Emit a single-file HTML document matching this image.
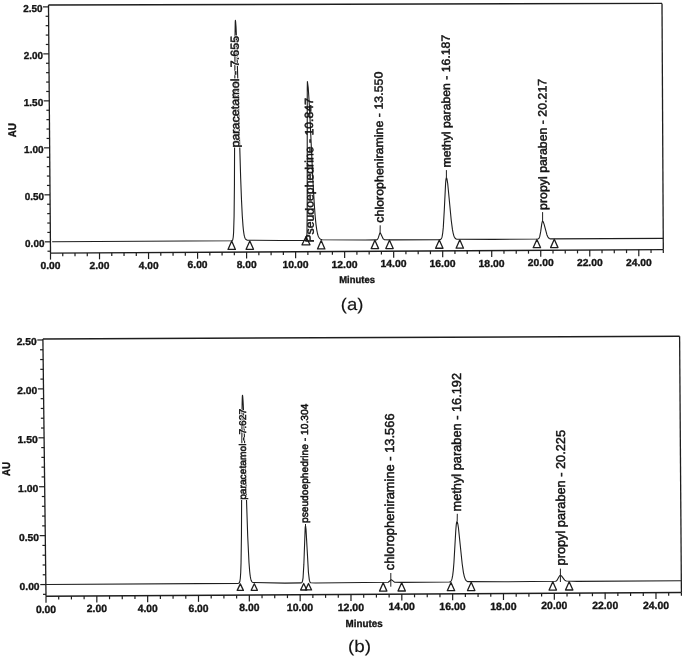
<!DOCTYPE html>
<html><head><meta charset="utf-8"><style>
html,body{margin:0;padding:0;background:#fff;width:685px;height:658px;overflow:hidden}
svg{display:block;filter:grayscale(1)}
text{font-family:"Liberation Sans",sans-serif;font-kerning:none;text-rendering:geometricPrecision}
text.s{stroke:#141414;stroke-width:0.35px}
text.t{stroke:#141414;stroke-width:0.15px}
text.v{stroke:#141414;stroke-width:0.5px}
text.h{stroke:#fff;stroke-width:1.6px;stroke-linejoin:round}
</style></head><body>
<svg width="685" height="658" viewBox="0 0 685 658">
<rect width="685" height="658" fill="#fff"/>
<g font-family="Liberation Sans, sans-serif" style="font-kerning:none">
<line x1="48.5" y1="5" x2="662" y2="3.4" stroke="#1e1e1e" stroke-width="1.45"/>
<line x1="662" y1="3.4" x2="663.3" y2="249.6" stroke="#1e1e1e" stroke-width="1.3"/>
<line x1="50.5" y1="253.1" x2="663.3" y2="249.6" stroke="#1e1e1e" stroke-width="1.45"/>
<line x1="48.5" y1="5" x2="50.5" y2="253.1" stroke="#1e1e1e" stroke-width="1.3"/>
<line x1="47.48" y1="251.22" x2="50.48" y2="251.22" stroke="#1e1e1e" stroke-width="1.2"/>
<line x1="44.81" y1="241.82" x2="50.41" y2="241.82" stroke="#1e1e1e" stroke-width="1.2"/>
<text class="s" x="25.12" y="246.77" font-size="10.03" font-weight="bold" textLength="19.3" lengthAdjust="spacingAndGlyphs" fill="#141414">0.00</text>
<line x1="47.33" y1="232.43" x2="50.33" y2="232.43" stroke="#1e1e1e" stroke-width="1.2"/>
<line x1="47.26" y1="223.03" x2="50.26" y2="223.03" stroke="#1e1e1e" stroke-width="1.2"/>
<line x1="47.18" y1="213.63" x2="50.18" y2="213.63" stroke="#1e1e1e" stroke-width="1.2"/>
<line x1="47.11" y1="204.23" x2="50.11" y2="204.23" stroke="#1e1e1e" stroke-width="1.2"/>
<line x1="44.43" y1="194.83" x2="50.03" y2="194.83" stroke="#1e1e1e" stroke-width="1.2"/>
<text class="s" x="24.74" y="199.79" font-size="10.03" font-weight="bold" textLength="19.3" lengthAdjust="spacingAndGlyphs" fill="#141414">0.50</text>
<line x1="46.95" y1="185.44" x2="49.95" y2="185.44" stroke="#1e1e1e" stroke-width="1.2"/>
<line x1="46.88" y1="176.04" x2="49.88" y2="176.04" stroke="#1e1e1e" stroke-width="1.2"/>
<line x1="46.8" y1="166.64" x2="49.8" y2="166.64" stroke="#1e1e1e" stroke-width="1.2"/>
<line x1="46.73" y1="157.24" x2="49.73" y2="157.24" stroke="#1e1e1e" stroke-width="1.2"/>
<line x1="44.05" y1="147.85" x2="49.65" y2="147.85" stroke="#1e1e1e" stroke-width="1.2"/>
<text class="s" x="24.12" y="152.8" font-size="10.03" font-weight="bold" textLength="19.54" lengthAdjust="spacingAndGlyphs" fill="#141414">1.00</text>
<line x1="46.58" y1="138.45" x2="49.58" y2="138.45" stroke="#1e1e1e" stroke-width="1.2"/>
<line x1="46.5" y1="129.05" x2="49.5" y2="129.05" stroke="#1e1e1e" stroke-width="1.2"/>
<line x1="46.42" y1="119.65" x2="49.42" y2="119.65" stroke="#1e1e1e" stroke-width="1.2"/>
<line x1="46.35" y1="110.25" x2="49.35" y2="110.25" stroke="#1e1e1e" stroke-width="1.2"/>
<line x1="43.67" y1="100.86" x2="49.27" y2="100.86" stroke="#1e1e1e" stroke-width="1.2"/>
<text class="s" x="23.74" y="105.81" font-size="10.03" font-weight="bold" textLength="19.54" lengthAdjust="spacingAndGlyphs" fill="#141414">1.50</text>
<line x1="46.2" y1="91.46" x2="49.2" y2="91.46" stroke="#1e1e1e" stroke-width="1.2"/>
<line x1="46.12" y1="82.06" x2="49.12" y2="82.06" stroke="#1e1e1e" stroke-width="1.2"/>
<line x1="46.05" y1="72.66" x2="49.05" y2="72.66" stroke="#1e1e1e" stroke-width="1.2"/>
<line x1="45.97" y1="63.27" x2="48.97" y2="63.27" stroke="#1e1e1e" stroke-width="1.2"/>
<line x1="43.29" y1="53.87" x2="48.89" y2="53.87" stroke="#1e1e1e" stroke-width="1.2"/>
<text class="s" x="23.65" y="58.82" font-size="10.03" font-weight="bold" textLength="19.25" lengthAdjust="spacingAndGlyphs" fill="#141414">2.00</text>
<line x1="45.82" y1="44.47" x2="48.82" y2="44.47" stroke="#1e1e1e" stroke-width="1.2"/>
<line x1="45.74" y1="35.07" x2="48.74" y2="35.07" stroke="#1e1e1e" stroke-width="1.2"/>
<line x1="45.67" y1="25.67" x2="48.67" y2="25.67" stroke="#1e1e1e" stroke-width="1.2"/>
<line x1="45.59" y1="16.28" x2="48.59" y2="16.28" stroke="#1e1e1e" stroke-width="1.2"/>
<line x1="42.92" y1="6.88" x2="48.52" y2="6.88" stroke="#1e1e1e" stroke-width="1.2"/>
<text class="s" x="23.27" y="11.83" font-size="10.03" font-weight="bold" textLength="19.25" lengthAdjust="spacingAndGlyphs" fill="#141414">2.50</text>
<line x1="50.5" y1="253.1" x2="50.5" y2="259.6" stroke="#1e1e1e" stroke-width="1.2"/>
<text class="s" x="40.49" y="269.2" font-size="10.17" font-weight="bold" textLength="20.03" lengthAdjust="spacingAndGlyphs" fill="#141414">0.00</text>
<line x1="62.76" y1="253.03" x2="62.76" y2="256.33" stroke="#1e1e1e" stroke-width="1.2"/>
<line x1="75.01" y1="252.96" x2="75.01" y2="256.26" stroke="#1e1e1e" stroke-width="1.2"/>
<line x1="87.27" y1="252.89" x2="87.27" y2="256.19" stroke="#1e1e1e" stroke-width="1.2"/>
<line x1="99.52" y1="252.82" x2="99.52" y2="259.32" stroke="#1e1e1e" stroke-width="1.2"/>
<text class="s" x="89.57" y="268.92" font-size="10.17" font-weight="bold" textLength="19.98" lengthAdjust="spacingAndGlyphs" fill="#141414">2.00</text>
<line x1="111.78" y1="252.75" x2="111.78" y2="256.05" stroke="#1e1e1e" stroke-width="1.2"/>
<line x1="124.04" y1="252.68" x2="124.04" y2="255.98" stroke="#1e1e1e" stroke-width="1.2"/>
<line x1="136.29" y1="252.61" x2="136.29" y2="255.91" stroke="#1e1e1e" stroke-width="1.2"/>
<line x1="148.55" y1="252.54" x2="148.55" y2="259.04" stroke="#1e1e1e" stroke-width="1.2"/>
<text class="s" x="138.79" y="268.64" font-size="10.17" font-weight="bold" textLength="19.77" lengthAdjust="spacingAndGlyphs" fill="#141414">4.00</text>
<line x1="160.8" y1="252.47" x2="160.8" y2="255.77" stroke="#1e1e1e" stroke-width="1.2"/>
<line x1="173.06" y1="252.4" x2="173.06" y2="255.7" stroke="#1e1e1e" stroke-width="1.2"/>
<line x1="185.32" y1="252.33" x2="185.32" y2="255.63" stroke="#1e1e1e" stroke-width="1.2"/>
<line x1="197.57" y1="252.26" x2="197.57" y2="258.76" stroke="#1e1e1e" stroke-width="1.2"/>
<text class="s" x="187.6" y="268.36" font-size="10.17" font-weight="bold" textLength="20" lengthAdjust="spacingAndGlyphs" fill="#141414">6.00</text>
<line x1="209.83" y1="252.19" x2="209.83" y2="255.49" stroke="#1e1e1e" stroke-width="1.2"/>
<line x1="222.08" y1="252.12" x2="222.08" y2="255.42" stroke="#1e1e1e" stroke-width="1.2"/>
<line x1="234.34" y1="252.05" x2="234.34" y2="255.35" stroke="#1e1e1e" stroke-width="1.2"/>
<line x1="246.6" y1="251.98" x2="246.6" y2="258.48" stroke="#1e1e1e" stroke-width="1.2"/>
<text class="s" x="236.67" y="268.08" font-size="10.17" font-weight="bold" textLength="19.95" lengthAdjust="spacingAndGlyphs" fill="#141414">8.00</text>
<line x1="258.85" y1="251.91" x2="258.85" y2="255.21" stroke="#1e1e1e" stroke-width="1.2"/>
<line x1="271.11" y1="251.84" x2="271.11" y2="255.14" stroke="#1e1e1e" stroke-width="1.2"/>
<line x1="283.36" y1="251.77" x2="283.36" y2="255.07" stroke="#1e1e1e" stroke-width="1.2"/>
<line x1="295.62" y1="251.7" x2="295.62" y2="258.2" stroke="#1e1e1e" stroke-width="1.2"/>
<text class="s" x="282.46" y="267.8" font-size="10.17" font-weight="bold" textLength="26.08" lengthAdjust="spacingAndGlyphs" fill="#141414">10.00</text>
<line x1="307.88" y1="251.63" x2="307.88" y2="254.93" stroke="#1e1e1e" stroke-width="1.2"/>
<line x1="320.13" y1="251.56" x2="320.13" y2="254.86" stroke="#1e1e1e" stroke-width="1.2"/>
<line x1="332.39" y1="251.49" x2="332.39" y2="254.79" stroke="#1e1e1e" stroke-width="1.2"/>
<line x1="344.64" y1="251.42" x2="344.64" y2="257.92" stroke="#1e1e1e" stroke-width="1.2"/>
<text class="s" x="331.49" y="267.52" font-size="10.17" font-weight="bold" textLength="26.08" lengthAdjust="spacingAndGlyphs" fill="#141414">12.00</text>
<line x1="356.9" y1="251.35" x2="356.9" y2="254.65" stroke="#1e1e1e" stroke-width="1.2"/>
<line x1="369.16" y1="251.28" x2="369.16" y2="254.58" stroke="#1e1e1e" stroke-width="1.2"/>
<line x1="381.41" y1="251.21" x2="381.41" y2="254.51" stroke="#1e1e1e" stroke-width="1.2"/>
<line x1="393.67" y1="251.14" x2="393.67" y2="257.64" stroke="#1e1e1e" stroke-width="1.2"/>
<text class="s" x="380.51" y="267.24" font-size="10.17" font-weight="bold" textLength="26.08" lengthAdjust="spacingAndGlyphs" fill="#141414">14.00</text>
<line x1="405.92" y1="251.07" x2="405.92" y2="254.37" stroke="#1e1e1e" stroke-width="1.2"/>
<line x1="418.18" y1="251" x2="418.18" y2="254.3" stroke="#1e1e1e" stroke-width="1.2"/>
<line x1="430.44" y1="250.93" x2="430.44" y2="254.23" stroke="#1e1e1e" stroke-width="1.2"/>
<line x1="442.69" y1="250.86" x2="442.69" y2="257.36" stroke="#1e1e1e" stroke-width="1.2"/>
<text class="s" x="429.54" y="266.96" font-size="10.17" font-weight="bold" textLength="26.08" lengthAdjust="spacingAndGlyphs" fill="#141414">16.00</text>
<line x1="454.95" y1="250.79" x2="454.95" y2="254.09" stroke="#1e1e1e" stroke-width="1.2"/>
<line x1="467.2" y1="250.72" x2="467.2" y2="254.02" stroke="#1e1e1e" stroke-width="1.2"/>
<line x1="479.46" y1="250.65" x2="479.46" y2="253.95" stroke="#1e1e1e" stroke-width="1.2"/>
<line x1="491.72" y1="250.58" x2="491.72" y2="257.08" stroke="#1e1e1e" stroke-width="1.2"/>
<text class="s" x="478.56" y="266.68" font-size="10.17" font-weight="bold" textLength="26.08" lengthAdjust="spacingAndGlyphs" fill="#141414">18.00</text>
<line x1="503.97" y1="250.51" x2="503.97" y2="253.81" stroke="#1e1e1e" stroke-width="1.2"/>
<line x1="516.23" y1="250.44" x2="516.23" y2="253.74" stroke="#1e1e1e" stroke-width="1.2"/>
<line x1="528.48" y1="250.37" x2="528.48" y2="253.67" stroke="#1e1e1e" stroke-width="1.2"/>
<line x1="540.74" y1="250.3" x2="540.74" y2="256.8" stroke="#1e1e1e" stroke-width="1.2"/>
<text class="s" x="527.88" y="266.4" font-size="10.17" font-weight="bold" textLength="25.78" lengthAdjust="spacingAndGlyphs" fill="#141414">20.00</text>
<line x1="553" y1="250.23" x2="553" y2="253.53" stroke="#1e1e1e" stroke-width="1.2"/>
<line x1="565.25" y1="250.16" x2="565.25" y2="253.46" stroke="#1e1e1e" stroke-width="1.2"/>
<line x1="577.51" y1="250.09" x2="577.51" y2="253.39" stroke="#1e1e1e" stroke-width="1.2"/>
<line x1="589.76" y1="250.02" x2="589.76" y2="256.52" stroke="#1e1e1e" stroke-width="1.2"/>
<text class="s" x="576.91" y="266.12" font-size="10.17" font-weight="bold" textLength="25.78" lengthAdjust="spacingAndGlyphs" fill="#141414">22.00</text>
<line x1="602.02" y1="249.95" x2="602.02" y2="253.25" stroke="#1e1e1e" stroke-width="1.2"/>
<line x1="614.28" y1="249.88" x2="614.28" y2="253.18" stroke="#1e1e1e" stroke-width="1.2"/>
<line x1="626.53" y1="249.81" x2="626.53" y2="253.11" stroke="#1e1e1e" stroke-width="1.2"/>
<line x1="638.79" y1="249.74" x2="638.79" y2="256.24" stroke="#1e1e1e" stroke-width="1.2"/>
<text class="s" x="625.93" y="265.84" font-size="10.17" font-weight="bold" textLength="25.78" lengthAdjust="spacingAndGlyphs" fill="#141414">24.00</text>
<line x1="651.04" y1="249.67" x2="651.04" y2="252.97" stroke="#1e1e1e" stroke-width="1.2"/>
<line x1="663.3" y1="249.6" x2="663.3" y2="252.9" stroke="#1e1e1e" stroke-width="1.2"/>
<polyline points="52.13,241.81 231.53,240.78 231.86,240.72 232.19,240.57 232.51,240.21 232.84,239.42 233.26,237.01 233.61,232.26 234.08,216.49 234.44,184.28 235.01,36.25 235.24,22.25 235.4,20.3 235.6,21.54 236.04,27.38 236.74,43.84 240.67,178.23 241.49,199.81 242.26,215.42 243,225.86 243.35,229.52 243.71,232.36 244.05,234.52 244.39,236.14 244.73,237.33 245.07,238.21 245.41,238.84 245.74,239.3 246.41,239.85 247.4,240.23 280.82,240.54 305.81,240.39 306.19,240.3 306.56,239.47 306.77,237.66 306.99,231.47 307.2,208.95 307.27,88.49 307.4,81.5 308.26,88.19 309.44,106.45 313,182.14 314.3,204.64 315.13,215.81 315.95,224.08 316.75,229.87 317.53,233.74 317.92,235.13 318.31,236.22 318.7,237.07 319.08,237.74 319.84,238.65 320.61,239.19 322.13,239.71 365.03,240.07 376.77,239.87 377.5,239.37 378.35,237.65 379.79,233.14 380.15,232.9 380.52,233.14 383.26,238.9 384.49,239.78 391.35,239.92 439.68,239.6 440.41,239.43 440.77,239.23 441.13,238.9 441.65,238.03 441.93,237.24 442.21,236.14 442.75,232.81 443.29,227.38 444.32,209.49 445.58,183.67 445.87,180.21 446.22,177.99 446.4,177.7 446.69,178.14 446.98,179.09 447.71,183.52 451.23,220.27 452.43,229.43 453.13,233.08 453.87,235.77 454.24,236.71 454.61,237.45 454.98,238.01 455.71,238.75 456.81,239.27 493.36,239.36 537.6,239.05 538.5,238.75 538.87,238.41 539.39,237.51 539.76,236.43 540.64,231.9 541.72,224.15 542.15,221.99 542.38,221.4 542.6,221.2 542.9,221.38 543.28,221.94 544.2,224.56 546.96,234.94 547.79,236.82 548.7,238.02 549.3,238.47 550.51,238.88 663.24,238.41" fill="none" stroke="#1e1e1e" stroke-width="1.1" stroke-linejoin="round"/>
<polygon points="231.71,241.11 228.01,249.41 235.41,249.41" fill="none" stroke="#1e1e1e" stroke-width="1.3" stroke-linejoin="round"/>
<polygon points="249.81,241.01 246.11,249.31 253.51,249.31" fill="none" stroke="#1e1e1e" stroke-width="1.3" stroke-linejoin="round"/>
<polygon points="306,236.8 302,244.8 310,244.8" fill="none" stroke="#1e1e1e" stroke-width="1.3" stroke-linejoin="round"/>
<polygon points="321.2,240.61 317.5,248.91 324.9,248.91" fill="none" stroke="#1e1e1e" stroke-width="1.3" stroke-linejoin="round"/>
<polygon points="374.9,240.32 371.2,248.62 378.6,248.62" fill="none" stroke="#1e1e1e" stroke-width="1.3" stroke-linejoin="round"/>
<polygon points="389.5,240.23 385.8,248.53 393.2,248.53" fill="none" stroke="#1e1e1e" stroke-width="1.3" stroke-linejoin="round"/>
<polygon points="439.3,239.96 435.6,248.26 443,248.26" fill="none" stroke="#1e1e1e" stroke-width="1.3" stroke-linejoin="round"/>
<polygon points="459.8,239.84 456.1,248.14 463.5,248.14" fill="none" stroke="#1e1e1e" stroke-width="1.3" stroke-linejoin="round"/>
<polygon points="536.89,239.41 533.19,247.71 540.59,247.71" fill="none" stroke="#1e1e1e" stroke-width="1.3" stroke-linejoin="round"/>
<polygon points="554.29,239.32 550.59,247.62 557.99,247.62" fill="none" stroke="#1e1e1e" stroke-width="1.3" stroke-linejoin="round"/>
<line x1="380.2" y1="225.3" x2="380.1" y2="232.9" stroke="#1e1e1e" stroke-width="1.0"/>
<line x1="446.4" y1="170.1" x2="446.4" y2="177.7" stroke="#1e1e1e" stroke-width="1.0"/>
<line x1="542.6" y1="212.1" x2="542.6" y2="221.2" stroke="#1e1e1e" stroke-width="1.0"/>
<text class="h" transform="translate(239.3,147.61) rotate(-90.35)" x="0" y="0" font-size="11.6" font-weight="normal" textLength="111.74" lengthAdjust="spacingAndGlyphs" fill="#fff">paracetamol - 7.655</text>
<text class="v" transform="translate(239.3,147.61) rotate(-90.35)" x="0" y="0" font-size="11.6" font-weight="normal" textLength="111.74" lengthAdjust="spacingAndGlyphs" fill="#141414">paracetamol - 7.655</text>
<text class="v" transform="translate(313.8,242.61) rotate(-90.35)" x="0" y="0" font-size="11.8" font-weight="normal" textLength="144.62" lengthAdjust="spacingAndGlyphs" fill="#141414">Pseudoephedrine - 10.847</text>
<text class="v" transform="translate(383.5,222.73) rotate(-90.35)" x="0" y="0" font-size="11.8" font-weight="normal" textLength="151.11" lengthAdjust="spacingAndGlyphs" fill="#141414">chloropheniramine - 13.550</text>
<text class="v" transform="translate(450.5,167.51) rotate(-90.35)" x="0" y="0" font-size="11.8" font-weight="normal" textLength="132.73" lengthAdjust="spacingAndGlyphs" fill="#141414">methyl paraben - 16.187</text>
<text class="v" transform="translate(547.1,209.9) rotate(-90.35)" x="0" y="0" font-size="12" font-weight="normal" textLength="131.02" lengthAdjust="spacingAndGlyphs" fill="#141414">propyl paraben - 20.217</text>
<!-- AU a -->
<text class="s" transform="translate(16.1,137.25) rotate(-90)" x="0" y="0" font-size="11.2" font-weight="bold" textLength="14.25" lengthAdjust="spacingAndGlyphs" fill="#141414">AU</text>
<text class="s" x="339.27" y="282.9" font-size="9.94" font-weight="bold" textLength="35.62" lengthAdjust="spacingAndGlyphs" fill="#141414">Minutes</text>
<text class="t" x="340.85" y="309.69" font-size="16.96" font-weight="normal" textLength="22.59" lengthAdjust="spacingAndGlyphs" fill="#141414">(a)</text>
<line x1="42.9" y1="339" x2="679.6" y2="336.2" stroke="#1e1e1e" stroke-width="1.45"/>
<line x1="679.6" y1="336.2" x2="681.4" y2="592.4" stroke="#1e1e1e" stroke-width="1.3"/>
<line x1="46" y1="596.3" x2="681.4" y2="592.4" stroke="#1e1e1e" stroke-width="1.45"/>
<line x1="42.9" y1="339" x2="46" y2="596.3" stroke="#1e1e1e" stroke-width="1.3"/>
<line x1="42.98" y1="594.34" x2="45.98" y2="594.34" stroke="#1e1e1e" stroke-width="1.2"/>
<line x1="40.26" y1="584.56" x2="45.86" y2="584.56" stroke="#1e1e1e" stroke-width="1.2"/>
<text class="s" x="19.55" y="589.61" font-size="10.03" font-weight="bold" textLength="20.03" lengthAdjust="spacingAndGlyphs" fill="#141414">0.00</text>
<line x1="42.74" y1="574.78" x2="45.74" y2="574.78" stroke="#1e1e1e" stroke-width="1.2"/>
<line x1="42.62" y1="564.99" x2="45.62" y2="564.99" stroke="#1e1e1e" stroke-width="1.2"/>
<line x1="42.5" y1="555.21" x2="45.5" y2="555.21" stroke="#1e1e1e" stroke-width="1.2"/>
<line x1="42.39" y1="545.43" x2="45.39" y2="545.43" stroke="#1e1e1e" stroke-width="1.2"/>
<line x1="39.67" y1="535.64" x2="45.27" y2="535.64" stroke="#1e1e1e" stroke-width="1.2"/>
<text class="s" x="18.96" y="540.7" font-size="10.03" font-weight="bold" textLength="20.03" lengthAdjust="spacingAndGlyphs" fill="#141414">0.50</text>
<line x1="42.15" y1="525.86" x2="45.15" y2="525.86" stroke="#1e1e1e" stroke-width="1.2"/>
<line x1="42.03" y1="516.08" x2="45.03" y2="516.08" stroke="#1e1e1e" stroke-width="1.2"/>
<line x1="41.92" y1="506.29" x2="44.92" y2="506.29" stroke="#1e1e1e" stroke-width="1.2"/>
<line x1="41.8" y1="496.51" x2="44.8" y2="496.51" stroke="#1e1e1e" stroke-width="1.2"/>
<line x1="39.08" y1="486.73" x2="44.68" y2="486.73" stroke="#1e1e1e" stroke-width="1.2"/>
<text class="s" x="18.12" y="491.78" font-size="10.03" font-weight="bold" textLength="20.28" lengthAdjust="spacingAndGlyphs" fill="#141414">1.00</text>
<line x1="41.56" y1="476.94" x2="44.56" y2="476.94" stroke="#1e1e1e" stroke-width="1.2"/>
<line x1="41.44" y1="467.16" x2="44.44" y2="467.16" stroke="#1e1e1e" stroke-width="1.2"/>
<line x1="41.33" y1="457.38" x2="44.33" y2="457.38" stroke="#1e1e1e" stroke-width="1.2"/>
<line x1="41.21" y1="447.59" x2="44.21" y2="447.59" stroke="#1e1e1e" stroke-width="1.2"/>
<line x1="38.49" y1="437.81" x2="44.09" y2="437.81" stroke="#1e1e1e" stroke-width="1.2"/>
<text class="s" x="17.53" y="442.86" font-size="10.03" font-weight="bold" textLength="20.28" lengthAdjust="spacingAndGlyphs" fill="#141414">1.50</text>
<line x1="40.97" y1="428.03" x2="43.97" y2="428.03" stroke="#1e1e1e" stroke-width="1.2"/>
<line x1="40.85" y1="418.24" x2="43.85" y2="418.24" stroke="#1e1e1e" stroke-width="1.2"/>
<line x1="40.74" y1="408.46" x2="43.74" y2="408.46" stroke="#1e1e1e" stroke-width="1.2"/>
<line x1="40.62" y1="398.68" x2="43.62" y2="398.68" stroke="#1e1e1e" stroke-width="1.2"/>
<line x1="37.9" y1="388.89" x2="43.5" y2="388.89" stroke="#1e1e1e" stroke-width="1.2"/>
<text class="s" x="17.25" y="393.95" font-size="10.03" font-weight="bold" textLength="19.98" lengthAdjust="spacingAndGlyphs" fill="#141414">2.00</text>
<line x1="40.38" y1="379.11" x2="43.38" y2="379.11" stroke="#1e1e1e" stroke-width="1.2"/>
<line x1="40.27" y1="369.33" x2="43.27" y2="369.33" stroke="#1e1e1e" stroke-width="1.2"/>
<line x1="40.15" y1="359.54" x2="43.15" y2="359.54" stroke="#1e1e1e" stroke-width="1.2"/>
<line x1="40.03" y1="349.76" x2="43.03" y2="349.76" stroke="#1e1e1e" stroke-width="1.2"/>
<line x1="37.31" y1="339.98" x2="42.91" y2="339.98" stroke="#1e1e1e" stroke-width="1.2"/>
<text class="s" x="16.66" y="345.03" font-size="10.03" font-weight="bold" textLength="19.98" lengthAdjust="spacingAndGlyphs" fill="#141414">2.50</text>
<line x1="46" y1="596.3" x2="46" y2="602.8" stroke="#1e1e1e" stroke-width="1.2"/>
<text class="s" x="35.89" y="612.6" font-size="10.45" font-weight="bold" textLength="20.24" lengthAdjust="spacingAndGlyphs" fill="#141414">0.00</text>
<line x1="58.71" y1="596.22" x2="58.71" y2="599.52" stroke="#1e1e1e" stroke-width="1.2"/>
<line x1="71.42" y1="596.14" x2="71.42" y2="599.44" stroke="#1e1e1e" stroke-width="1.2"/>
<line x1="84.12" y1="596.07" x2="84.12" y2="599.37" stroke="#1e1e1e" stroke-width="1.2"/>
<line x1="96.83" y1="595.99" x2="96.83" y2="602.49" stroke="#1e1e1e" stroke-width="1.2"/>
<text class="s" x="86.77" y="612.29" font-size="10.45" font-weight="bold" textLength="20.18" lengthAdjust="spacingAndGlyphs" fill="#141414">2.00</text>
<line x1="109.54" y1="595.91" x2="109.54" y2="599.21" stroke="#1e1e1e" stroke-width="1.2"/>
<line x1="122.25" y1="595.83" x2="122.25" y2="599.13" stroke="#1e1e1e" stroke-width="1.2"/>
<line x1="134.96" y1="595.75" x2="134.96" y2="599.05" stroke="#1e1e1e" stroke-width="1.2"/>
<line x1="147.66" y1="595.68" x2="147.66" y2="602.18" stroke="#1e1e1e" stroke-width="1.2"/>
<text class="s" x="137.81" y="611.97" font-size="10.45" font-weight="bold" textLength="19.98" lengthAdjust="spacingAndGlyphs" fill="#141414">4.00</text>
<line x1="160.37" y1="595.6" x2="160.37" y2="598.9" stroke="#1e1e1e" stroke-width="1.2"/>
<line x1="173.08" y1="595.52" x2="173.08" y2="598.82" stroke="#1e1e1e" stroke-width="1.2"/>
<line x1="185.79" y1="595.44" x2="185.79" y2="598.74" stroke="#1e1e1e" stroke-width="1.2"/>
<line x1="198.5" y1="595.36" x2="198.5" y2="601.86" stroke="#1e1e1e" stroke-width="1.2"/>
<text class="s" x="188.42" y="611.66" font-size="10.45" font-weight="bold" textLength="20.21" lengthAdjust="spacingAndGlyphs" fill="#141414">6.00</text>
<line x1="211.2" y1="595.29" x2="211.2" y2="598.59" stroke="#1e1e1e" stroke-width="1.2"/>
<line x1="223.91" y1="595.21" x2="223.91" y2="598.51" stroke="#1e1e1e" stroke-width="1.2"/>
<line x1="236.62" y1="595.13" x2="236.62" y2="598.43" stroke="#1e1e1e" stroke-width="1.2"/>
<line x1="249.33" y1="595.05" x2="249.33" y2="601.55" stroke="#1e1e1e" stroke-width="1.2"/>
<text class="s" x="239.3" y="611.35" font-size="10.45" font-weight="bold" textLength="20.15" lengthAdjust="spacingAndGlyphs" fill="#141414">8.00</text>
<line x1="262.04" y1="594.97" x2="262.04" y2="598.27" stroke="#1e1e1e" stroke-width="1.2"/>
<line x1="274.74" y1="594.9" x2="274.74" y2="598.2" stroke="#1e1e1e" stroke-width="1.2"/>
<line x1="287.45" y1="594.82" x2="287.45" y2="598.12" stroke="#1e1e1e" stroke-width="1.2"/>
<line x1="300.16" y1="594.74" x2="300.16" y2="601.24" stroke="#1e1e1e" stroke-width="1.2"/>
<text class="s" x="286.87" y="611.04" font-size="10.45" font-weight="bold" textLength="26.35" lengthAdjust="spacingAndGlyphs" fill="#141414">10.00</text>
<line x1="312.87" y1="594.66" x2="312.87" y2="597.96" stroke="#1e1e1e" stroke-width="1.2"/>
<line x1="325.58" y1="594.58" x2="325.58" y2="597.88" stroke="#1e1e1e" stroke-width="1.2"/>
<line x1="338.28" y1="594.51" x2="338.28" y2="597.81" stroke="#1e1e1e" stroke-width="1.2"/>
<line x1="350.99" y1="594.43" x2="350.99" y2="600.93" stroke="#1e1e1e" stroke-width="1.2"/>
<text class="s" x="337.7" y="610.73" font-size="10.45" font-weight="bold" textLength="26.35" lengthAdjust="spacingAndGlyphs" fill="#141414">12.00</text>
<line x1="363.7" y1="594.35" x2="363.7" y2="597.65" stroke="#1e1e1e" stroke-width="1.2"/>
<line x1="376.41" y1="594.27" x2="376.41" y2="597.57" stroke="#1e1e1e" stroke-width="1.2"/>
<line x1="389.12" y1="594.19" x2="389.12" y2="597.49" stroke="#1e1e1e" stroke-width="1.2"/>
<line x1="401.82" y1="594.12" x2="401.82" y2="600.62" stroke="#1e1e1e" stroke-width="1.2"/>
<text class="s" x="388.53" y="610.41" font-size="10.45" font-weight="bold" textLength="26.35" lengthAdjust="spacingAndGlyphs" fill="#141414">14.00</text>
<line x1="414.53" y1="594.04" x2="414.53" y2="597.34" stroke="#1e1e1e" stroke-width="1.2"/>
<line x1="427.24" y1="593.96" x2="427.24" y2="597.26" stroke="#1e1e1e" stroke-width="1.2"/>
<line x1="439.95" y1="593.88" x2="439.95" y2="597.18" stroke="#1e1e1e" stroke-width="1.2"/>
<line x1="452.66" y1="593.8" x2="452.66" y2="600.3" stroke="#1e1e1e" stroke-width="1.2"/>
<text class="s" x="439.36" y="610.1" font-size="10.45" font-weight="bold" textLength="26.35" lengthAdjust="spacingAndGlyphs" fill="#141414">16.00</text>
<line x1="465.36" y1="593.73" x2="465.36" y2="597.03" stroke="#1e1e1e" stroke-width="1.2"/>
<line x1="478.07" y1="593.65" x2="478.07" y2="596.95" stroke="#1e1e1e" stroke-width="1.2"/>
<line x1="490.78" y1="593.57" x2="490.78" y2="596.87" stroke="#1e1e1e" stroke-width="1.2"/>
<line x1="503.49" y1="593.49" x2="503.49" y2="599.99" stroke="#1e1e1e" stroke-width="1.2"/>
<text class="s" x="490.2" y="609.79" font-size="10.45" font-weight="bold" textLength="26.35" lengthAdjust="spacingAndGlyphs" fill="#141414">18.00</text>
<line x1="516.2" y1="593.41" x2="516.2" y2="596.71" stroke="#1e1e1e" stroke-width="1.2"/>
<line x1="528.9" y1="593.34" x2="528.9" y2="596.64" stroke="#1e1e1e" stroke-width="1.2"/>
<line x1="541.61" y1="593.26" x2="541.61" y2="596.56" stroke="#1e1e1e" stroke-width="1.2"/>
<line x1="554.32" y1="593.18" x2="554.32" y2="599.68" stroke="#1e1e1e" stroke-width="1.2"/>
<text class="s" x="541.33" y="609.48" font-size="10.45" font-weight="bold" textLength="26.05" lengthAdjust="spacingAndGlyphs" fill="#141414">20.00</text>
<line x1="567.03" y1="593.1" x2="567.03" y2="596.4" stroke="#1e1e1e" stroke-width="1.2"/>
<line x1="579.74" y1="593.02" x2="579.74" y2="596.32" stroke="#1e1e1e" stroke-width="1.2"/>
<line x1="592.44" y1="592.95" x2="592.44" y2="596.25" stroke="#1e1e1e" stroke-width="1.2"/>
<line x1="605.15" y1="592.87" x2="605.15" y2="599.37" stroke="#1e1e1e" stroke-width="1.2"/>
<text class="s" x="592.16" y="609.17" font-size="10.45" font-weight="bold" textLength="26.05" lengthAdjust="spacingAndGlyphs" fill="#141414">22.00</text>
<line x1="617.86" y1="592.79" x2="617.86" y2="596.09" stroke="#1e1e1e" stroke-width="1.2"/>
<line x1="630.57" y1="592.71" x2="630.57" y2="596.01" stroke="#1e1e1e" stroke-width="1.2"/>
<line x1="643.28" y1="592.63" x2="643.28" y2="595.93" stroke="#1e1e1e" stroke-width="1.2"/>
<line x1="655.98" y1="592.56" x2="655.98" y2="599.06" stroke="#1e1e1e" stroke-width="1.2"/>
<text class="s" x="642.99" y="608.85" font-size="10.45" font-weight="bold" textLength="26.05" lengthAdjust="spacingAndGlyphs" fill="#141414">24.00</text>
<line x1="668.69" y1="592.48" x2="668.69" y2="595.78" stroke="#1e1e1e" stroke-width="1.2"/>
<line x1="681.4" y1="592.4" x2="681.4" y2="595.7" stroke="#1e1e1e" stroke-width="1.2"/>
<polyline points="45.86,584.56 238.28,583.35 238.91,583.14 239.23,582.87 239.54,582.35 239.88,581.29 240.3,578.47 240.72,572.43 241.05,562.63 241.45,535.14 242,413.32 242.14,402.8 242.29,397.31 242.39,395.76 242.5,395.2 242.75,396.8 243.09,401.48 243.59,412.02 247.7,536.04 248.99,562.46 249.67,571.23 250.02,574.48 250.37,576.91 250.7,578.68 251.04,579.95 251.37,580.84 251.69,581.47 252.02,581.91 252.66,582.42 284.99,583.11 301.35,582.89 302.05,582.33 302.51,581.19 303.07,577.79 303.87,564.15 305.17,527.93 305.38,526.22 305.5,526 305.62,526.22 306.01,529.38 308.44,572.44 309.35,580.13 309.96,582.08 310.55,582.73 315.51,582.93 388.25,582.24 391.02,579.89 391.65,579.84 394.47,582.15 401.72,582.4 449,582.06 449.78,581.92 450.17,581.78 450.68,581.43 451.02,581.06 451.36,580.52 451.72,579.69 452.1,578.42 452.68,575.42 453.32,570.1 453.94,562.42 455.72,531.48 456.02,527.34 456.34,524.17 456.69,522.06 457,521.5 457.35,522.1 457.89,524.28 458.43,527.76 462.17,563.76 463.4,572.35 464.33,576.59 465.24,579.15 465.82,580.19 466.22,580.69 467.01,581.33 467.79,581.66 504.22,581.78 555.75,581.21 556.86,580.49 559.61,575.83 560.17,575.35 560.73,575.36 561.66,576.09 564.67,580.15 566.17,581.06 577.15,581.34 681.32,580.71" fill="none" stroke="#1e1e1e" stroke-width="1.1" stroke-linejoin="round"/>
<polygon points="240.3,583.88 237.2,590.38 243.4,590.38" fill="none" stroke="#1e1e1e" stroke-width="1.3" stroke-linejoin="round"/>
<polygon points="254.3,583.8 251.2,590.3 257.4,590.3" fill="none" stroke="#1e1e1e" stroke-width="1.3" stroke-linejoin="round"/>
<polygon points="303.7,583.5 300.6,590 306.8,590" fill="none" stroke="#1e1e1e" stroke-width="1.3" stroke-linejoin="round"/>
<polygon points="308.5,583.47 305.4,589.97 311.6,589.97" fill="none" stroke="#1e1e1e" stroke-width="1.3" stroke-linejoin="round"/>
<polygon points="383.2,582.82 379.5,591.12 386.9,591.12" fill="none" stroke="#1e1e1e" stroke-width="1.3" stroke-linejoin="round"/>
<polygon points="401.69,582.7 397.99,591 405.39,591" fill="none" stroke="#1e1e1e" stroke-width="1.3" stroke-linejoin="round"/>
<polygon points="450.99,582.41 447.29,590.71 454.69,590.71" fill="none" stroke="#1e1e1e" stroke-width="1.3" stroke-linejoin="round"/>
<polygon points="471.19,582.28 467.49,590.58 474.89,590.58" fill="none" stroke="#1e1e1e" stroke-width="1.3" stroke-linejoin="round"/>
<polygon points="552.79,581.79 549.09,590.09 556.49,590.09" fill="none" stroke="#1e1e1e" stroke-width="1.3" stroke-linejoin="round"/>
<polygon points="569.19,581.69 565.49,589.99 572.89,589.99" fill="none" stroke="#1e1e1e" stroke-width="1.3" stroke-linejoin="round"/>
<line x1="305.5" y1="524" x2="305.5" y2="527" stroke="#1e1e1e" stroke-width="1.0"/>
<line x1="390.8" y1="573" x2="390.8" y2="586.7" stroke="#1e1e1e" stroke-width="1.0"/>
<line x1="457.3" y1="513.8" x2="457.2" y2="521" stroke="#1e1e1e" stroke-width="1.0"/>
<line x1="560.4" y1="568.6" x2="560.4" y2="582" stroke="#1e1e1e" stroke-width="1.0"/>
<text class="h" transform="translate(246.4,499.86) rotate(-90)" x="0" y="0" font-size="9.8" font-weight="normal" textLength="90.97" lengthAdjust="spacingAndGlyphs" fill="#fff">paracetamol - 7.627</text>
<text class="v" transform="translate(246.4,499.86) rotate(-90)" x="0" y="0" font-size="9.8" font-weight="normal" textLength="90.97" lengthAdjust="spacingAndGlyphs" fill="#141414">paracetamol - 7.627</text>
<text class="v" transform="translate(308,523.06) rotate(-90)" x="0" y="0" font-size="10.2" font-weight="normal" textLength="119.36" lengthAdjust="spacingAndGlyphs" fill="#141414">pseudoephedrine - 10.304</text>
<text class="v" transform="translate(394.4,570.25) rotate(-90)" x="0" y="0" font-size="13" font-weight="normal" textLength="156.81" lengthAdjust="spacingAndGlyphs" fill="#141414">chloropheniramine - 13.566</text>
<text class="v" transform="translate(461.2,511.45) rotate(-90)" x="0" y="0" font-size="13" font-weight="normal" textLength="138.49" lengthAdjust="spacingAndGlyphs" fill="#141414">methyl paraben - 16.192</text>
<text class="v" transform="translate(564.7,565.42) rotate(-90)" x="0" y="0" font-size="12.8" font-weight="normal" textLength="135.46" lengthAdjust="spacingAndGlyphs" fill="#141414">propyl paraben - 20.225</text>
<text class="s" transform="translate(10,476.04) rotate(-90)" x="0" y="0" font-size="11.2" font-weight="bold" textLength="14.14" lengthAdjust="spacingAndGlyphs" fill="#141414">AU</text>
<text class="s" x="345.54" y="626.8" font-size="10.21" font-weight="bold" textLength="37.06" lengthAdjust="spacingAndGlyphs" fill="#141414">Minutes</text>
<text class="t" x="348.03" y="651.89" font-size="16.96" font-weight="normal" textLength="23.04" lengthAdjust="spacingAndGlyphs" fill="#141414">(b)</text>
</g></svg>
</body></html>
